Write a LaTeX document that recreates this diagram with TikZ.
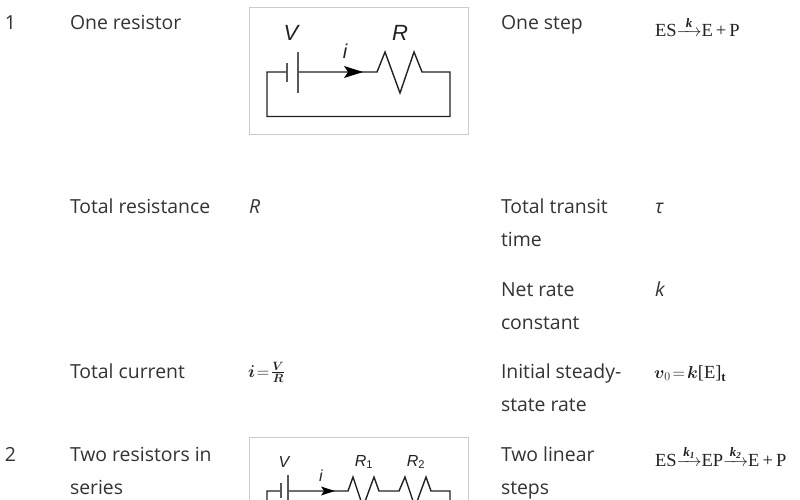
\documentclass[tikz,border=0pt]{standalone}
\usepackage{amsmath}
\usepackage{fontspec}
\setmainfont{Open Sans}
\newfontfamily\circfont{Liberation Sans}
\newfontfamily\eqfont{Liberation Serif}
\usetikzlibrary{arrows.meta}
\definecolor{txt}{HTML}{333333}
\definecolor{eqc}{HTML}{222222}
\definecolor{frm}{HTML}{CCCCCC}
\definecolor{wire}{HTML}{222222}
\tikzset{
  cell/.style={anchor=base west,inner sep=0pt,outer sep=0pt,text=txt,font=\fontsize{19.4}{22}\selectfont},
  eqn/.style={anchor=base west,inner sep=0pt,outer sep=0pt,text=eqc,font=\eqfont\fontsize{18.5}{20}\selectfont},
  frame/.style={draw=frm,line width=1pt,fill=white},
  wires/.style={draw=wire,line width=1.4pt,line join=miter},
  plate/.style={draw=wire!75,line width=1.4pt},
  clabel/.style={inner sep=0pt,text=wire,font=\circfont\itshape},
  tip/.style={fill=black,draw=none}
}
\newcommand{\arr}[1]{\mathrel{\smash{\overset{\raisebox{-1pt}{\fontsize{13}{14}\selectfont\bfseries\itshape #1}}{\hbox to 25pt{\rightarrowfill}}}}}
\begin{document}
\begin{tikzpicture}[x=1pt,y=-1pt]
\clip (0,0) rectangle (800,500);
\fill[white] (0,0) rectangle (800,500);
% row 1
\node[cell] (n1) at (5,30) {1};
\node[cell] (a1) at (70,30) {One resistor};
\node[cell] (c1) at (501,30) {One step};
\node[eqn] (e1) at (655,36.5) {ES$\arr{k}$E\,+\,P};
% circuit 1
\path[frame] (249.5,7.5) rectangle (468,134.5);
\coordinate (w1a) at (287,72);
\coordinate (w1b) at (298,72);
\draw[wires] (w1a) -- (267,72) -- (267,116.5) -- (450,116.5) -- (450,72) -- (422,72)
  -- (414,52) -- (400,93) -- (385,52) -- (377,72) -- (w1b);
\draw[plate] (287,63) -- (287,82);
\draw[plate] (298,52) -- (298,93);
\fill[tip] (363,72) -- (344,66) -- (348,72) -- (344,78) -- cycle;
\node[clabel,font=\circfont\itshape\fontsize{22}{24}\selectfont] (v1) at (291,33) {V};
\node[clabel,font=\circfont\itshape\fontsize{22}{24}\selectfont] (r1) at (400,33) {R};
\node[clabel,font=\circfont\itshape\fontsize{20}{24}\selectfont] (i1) at (345,51) {i};
% rows
\node[cell] (a2) at (70,213) {Total resistance};
\node[cell] (b2) at (249,213) {\itshape R};
\node[cell] (c2) at (501,213) {Total transit};
\node[cell] (c2b) at (501,246) {time};
\node[cell] (d2) at (655,213) {\itshape τ};
\node[cell] (c3) at (501,296) {Net rate};
\node[cell] (c3b) at (501,329) {constant};
\node[cell] (d3) at (655,296) {\itshape k};
\node[cell] (a4) at (70,378) {Total current};
\node[eqn] (b4) at (248,377) {$\boldsymbol{i}\!=\!\frac{\boldsymbol{V}}{\boldsymbol{R}}$};
\node[cell] (c4) at (501,378) {Initial steady-};
\node[cell] (c4b) at (501,411) {state rate};
\node[eqn] (d4) at (654,378) {$\boldsymbol{v}_0\!=\!\boldsymbol{k}\textnormal{\eqfont [E]}_{\textnormal{\eqfont\bfseries t}}$};
% row 2
\node[cell] (n5) at (5,461) {2};
\node[cell] (a5) at (70,461) {Two resistors in};
\node[cell] (a5b) at (70,494) {series};
\node[cell] (c5) at (501,461) {Two linear};
\node[cell] (c5b) at (501,494) {steps};
\node[eqn] (e5) at (655,466.5) {ES$\arr{k\textsubscript{1}}$EP$\arr{k\textsubscript{2}}$E\,+\,P};
% circuit 2
\path[frame] (249.5,437.5) rectangle (468,520);
\coordinate (w2a) at (281,491);
\coordinate (w2b) at (288,491);
\draw[wires] (w2a) -- (267,491) -- (267,520) (450,520) -- (450,491) -- (431,491)
  -- (426,477) -- (415,507) -- (405,477) -- (399,491) -- (379,491)
  -- (374,477) -- (363,507) -- (353,477) -- (348,491) -- (w2b);
\draw[plate] (281,483) -- (281,498);
\draw[plate] (288,475) -- (288,506);
\fill[tip] (335,491) -- (321,486.5) -- (324,491) -- (321,495.5) -- cycle;
\node[clabel,font=\circfont\itshape\fontsize{16}{18}\selectfont] (v2) at (284,462) {V};
\node[clabel,font=\circfont\itshape\fontsize{16}{18}\selectfont] (i2) at (321,476) {i};
\node[clabel,font=\circfont\fontsize{16}{18}\selectfont] (r21) at (364,462) {\textit{R}\textsubscript{1}};
\node[clabel,font=\circfont\fontsize{16}{18}\selectfont] (r22) at (416,462) {\textit{R}\textsubscript{2}};
\end{tikzpicture}
\end{document}
